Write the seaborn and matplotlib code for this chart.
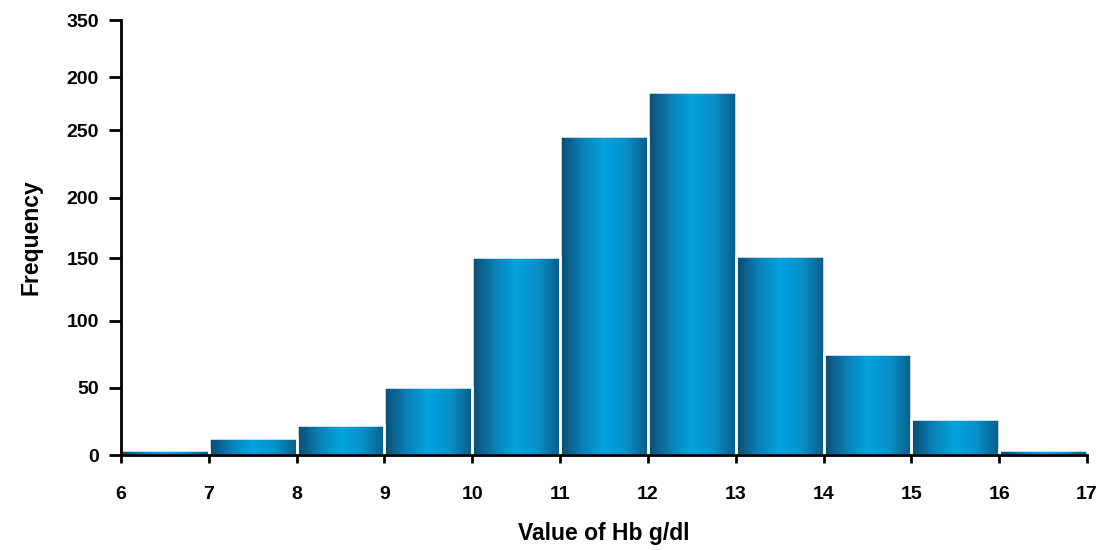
import numpy as np
import pandas as pd
import matplotlib
matplotlib.use("Agg")
import matplotlib.pyplot as plt
from matplotlib.colors import LinearSegmentedColormap
import seaborn as sns

# Hb values binned 6-17 g/dl
bin_edges = [6, 7, 8, 9, 10, 11, 12, 13, 14, 15, 16, 17]
bin_centers = [6.5, 7.5, 8.5, 9.5, 10.5, 11.5, 12.5, 13.5, 14.5, 15.5, 16.5]
counts = [4, 14, 24, 55, 159, 257, 292, 160, 81, 29, 4]

x_ticks = [6, 7, 8, 9, 10, 11, 12, 13, 14, 15, 16, 17]
y_tick_pos = [0, 54, 108, 158.5, 207, 261.5, 304, 350]
y_tick_labels = ["0", "50", "100", "150", "200", "250", "200", "350"]

df = pd.DataFrame({"hb": bin_centers, "n": counts})

sns.set_style("white")
plt.rcParams['font.family'] = ['Liberation Sans', 'DejaVu Sans']

fig = plt.figure(figsize=(11.03, 5.5), dpi=100)
ax = fig.add_axes([0.1097, 0.1727, 0.8758, 0.7909])

sns.histplot(data=df, x="hb", weights="n", bins=bin_edges, ax=ax,
             color="#0096cf", edgecolor="white", linewidth=1.8, alpha=1)

# shaded bar look
cmap = LinearSegmentedColormap.from_list(
    "bar", ["#0b4a6e", "#0a80b6", "#00a3de", "#0990c9", "#0b5d88"])
grad = np.linspace(0, 1, 256).reshape(1, -1)
for p in list(ax.patches):
    x0, y0 = p.get_x(), p.get_y()
    w, h = p.get_width(), p.get_height()
    im = ax.imshow(grad, cmap=cmap, aspect="auto", extent=[x0, x0 + w, y0, y0 + h],
                   zorder=p.get_zorder() - 0.1, interpolation="bicubic")
    im.set_clip_path(p)
    p.set_facecolor("none")

ax.set_xlim(6, 17)
ax.set_ylim(0, 350)
ax.set_xticks(x_ticks)
ax.set_yticks(y_tick_pos)
ax.set_yticklabels(y_tick_labels)

for s in ["top", "right"]:
    ax.spines[s].set_visible(False)
for s in ["left", "bottom"]:
    ax.spines[s].set_color("black")
    ax.spines[s].set_linewidth(2)

ax.tick_params(axis="y", direction="out", length=9, width=2, color="black",
               labelcolor="black", labelsize=14, pad=7, left=True)
ax.tick_params(axis="x", direction="out", length=6, width=2, color="black",
               labelcolor="black", labelsize=14, pad=16, bottom=True)
for lab in ax.get_xticklabels() + ax.get_yticklabels():
    lab.set_fontweight("bold")

ax.set_xlabel("Value of Hb g/dl", fontsize=16.5, fontweight="bold",
              color="black", labelpad=14)
ax.set_ylabel("Frequency", fontsize=16.5, fontweight="bold",
              color="black", labelpad=17)

plt.savefig("out.png", dpi=100)
plt.close()
